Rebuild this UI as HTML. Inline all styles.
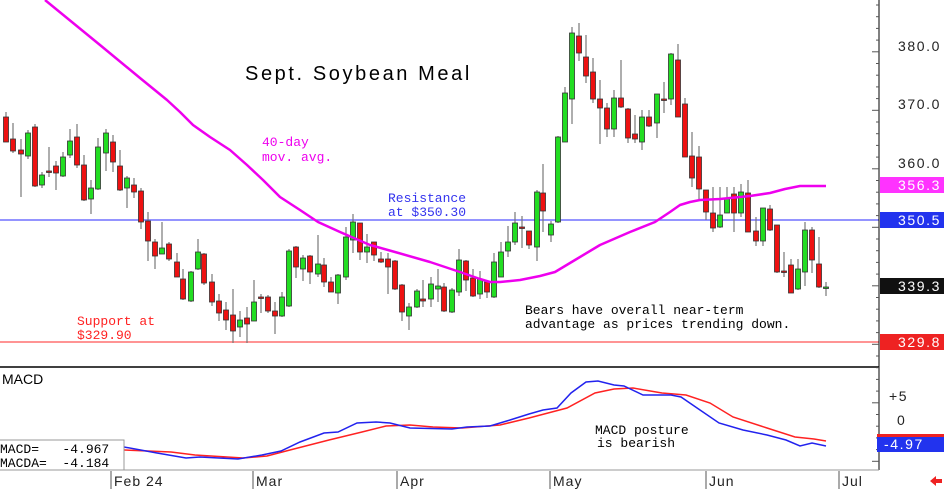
<!DOCTYPE html>
<html><head><meta charset="utf-8"><style>
html,body{margin:0;padding:0;background:#fff;width:944px;height:492px;overflow:hidden}
svg{display:block}
text{white-space:pre}
.m{font-family:"Liberation Mono",monospace;font-size:13px}
.s{font-family:"Liberation Sans",sans-serif}
</style></head><body>
<svg id="c" width="944" height="492" xmlns="http://www.w3.org/2000/svg">
<rect width="944" height="492" fill="#fff"/>
<line x1="0" y1="220" x2="879" y2="220" stroke="#7070ff" stroke-width="1.5"/>
<line x1="0" y1="342" x2="879" y2="342" stroke="#ff7070" stroke-width="1.5"/>
<g id="cd"></g>
<polyline fill="none" stroke="#ee00ee" stroke-width="2.5" stroke-linejoin="round" points="45,0 100,45 140,78 167,100 180,112 193,125 210,137 230,150 247,165 263,180 280,197 300,210 318,222 340,232 370,245 395,252 430,262 460,272 480,279 490,282 500,282 520,280 540,276 555,272 565,266 575,260 600,245 630,232 655,222 670,212 680,205 690,202 700,200 720,199 750,196 770,193 785,189 800,186 826,186"/>
<text x="245" y="80" class="s" font-size="20" letter-spacing="2.6">Sept. Soybean Meal</text>
<text x="262" y="146" class="m" fill="#ee00ee">40-day</text>
<text x="262" y="161" class="m" fill="#ee00ee">mov. avg.</text>
<text x="388" y="202" class="m" fill="#3333ee">Resistance</text>
<text x="388" y="216" class="m" fill="#3333ee">at $350.30</text>
<text x="77" y="325" class="m" fill="#ff2222">Support at</text>
<text x="77" y="339" class="m" fill="#ff2222">$329.90</text>
<text x="525" y="314" class="m">Bears have overall near-term</text>
<text x="525" y="328" class="m">advantage as prices trending down.</text>
<line x1="0" y1="367" x2="879" y2="367" stroke="#000" stroke-width="1.5"/>
<text x="2" y="384" class="s" font-size="14">MACD</text>
<polyline fill="none" stroke="#ff2222" stroke-width="1.5" points="124,450 171,452 195,455 243,458 267,456 290,450 329,440 362,432 386,426 410,425 433,427 462,428 500,425 529,418 567,408 595,393 614,389 633,388 662,393 686,395 710,403 733,417 767,428 795,437 814,439 826,441"/>
<polyline fill="none" stroke="#2222ee" stroke-width="1.5" points="124,447 157,453 186,458 200,457 238,459 262,455 281,451 300,442 324,433 338,432 357,423 376,422 390,423 410,428 452,429 467,427 490,426 510,420 529,414 543,410 557,408 571,393 586,382 598,381 614,385 624,386 643,395 671,395 681,397 700,410 719,423 743,430 767,435 786,440 800,446 812,443 826,446"/>
<text x="595" y="434" class="m">MACD posture</text>
<text x="597" y="447" class="m">is bearish</text>
<rect x="-1" y="440" width="125" height="30" fill="#fff" stroke="#999"/>
<text x="0" y="453" class="m" font-size="14">MACD=   -4.967</text>
<text x="0" y="467" class="m" font-size="14">MACDA=  -4.184</text>
<line x1="879" y1="0" x2="879" y2="470" stroke="#000"/>
<g id="tk" stroke="#555"></g>
<g class="s" font-size="14" fill="#222" letter-spacing="1.6">
<text x="898" y="51">380.0</text><text x="898" y="109">370.0</text><text x="898" y="168">360.0</text><text x="898" y="288">340.0</text>
<text x="889" y="401">+5</text><text x="897" y="425">0</text></g>
<g class="s" font-size="14" fill="#fff" letter-spacing="1.6">
<rect x="880" y="177" width="64" height="16" fill="#ff33ff"/><text x="898" y="190">356.3</text>
<rect x="880" y="212" width="64" height="16" fill="#2233ee"/><text x="898" y="225">350.5</text>
<rect x="880" y="278" width="64" height="16" fill="#111"/><text x="898" y="291">339.3</text>
<rect x="880" y="334" width="64" height="16" fill="#ee2222"/><text x="898" y="347">329.8</text>
<rect x="877" y="434" width="67" height="4" fill="#ee2222"/>
<rect x="877" y="437" width="67" height="15" fill="#2233ee"/><text x="884" y="449">-4.97</text></g>
<line x1="0" y1="470" x2="879" y2="470" stroke="#999"/>
<g stroke="#555"><line x1="111" y1="471" x2="111" y2="489"/><line x1="253" y1="471" x2="253" y2="489"/><line x1="397" y1="471" x2="397" y2="489"/><line x1="550" y1="471" x2="550" y2="489"/><line x1="706" y1="471" x2="706" y2="489"/><line x1="839" y1="471" x2="839" y2="489"/></g>
<g class="s" font-size="14" fill="#222" letter-spacing="1"><text x="114" y="486">Feb 24</text><text x="256" y="486">Mar</text><text x="400" y="486">Apr</text><text x="553" y="486">May</text><text x="709" y="486">Jun</text><text x="842" y="486">Jul</text></g>
<polygon points="930,481 936,476 936,479 942,479 942,483 936,483 936,486" fill="#ee2222"/>
</svg>
<script>
var d=[[6,117,142,112,142],[13,139,151,123,153],[21,150,154,139,197],[28,156,133,130,159],[35,127,186,124,187],[42,185,175,172,188],[49,171,172,147,177],[56,166,173,161,190],[63,176,157,152,177],[70,155,141,129,158],[77,137,165,124,168],[84,165,200,155,201],[91,199,188,180,214],[98,189,147,138,190],[106,153,133,129,171],[113,142,162,135,172],[120,166,190,150,191],[127,188,178,176,208],[134,185,192,178,198],[141,191,222,188,229],[148,221,241,212,261],[155,242,256,239,269],[162,254,248,222,254],[169,244,259,242,261],[177,262,277,253,277],[183,279,299,269,300],[191,301,272,271,302],[198,269,252,239,270],[204,254,283,253,285],[212,282,302,274,306],[219,301,313,294,321],[226,310,320,302,330],[233,315,331,289,343],[240,327,320,311,337],[247,318,324,307,343],[254,321,302,280,321],[261,297,297,294,313],[268,297,311,295,313],[275,311,316,302,334],[282,316,297,292,317],[289,306,251,249,307],[296,247,267,246,278],[303,269,258,255,281],[310,256,272,255,284],[318,274,264,235,277],[324,265,282,258,287],[331,282,292,277,292],[338,293,275,274,304],[346,277,237,227,280],[353,240,222,214,253],[360,223,252,223,260],[367,252,247,234,263],[374,242,255,242,261],[381,259,262,252,263],[388,259,267,253,294],[395,261,289,260,290],[402,285,312,284,321],[409,316,307,303,330],[417,307,291,289,308],[423,299,301,280,307],[431,299,284,277,307],[438,289,286,269,302],[444,287,311,283,312],[452,312,290,288,313],[459,292,260,249,296],[466,261,280,260,291],[473,278,296,269,297],[480,294,279,271,299],[487,282,292,280,298],[494,297,262,253,298],[501,277,252,242,277],[508,251,242,226,257],[515,242,223,212,245],[522,227,228,216,248],[529,231,245,231,249],[537,247,192,190,261],[543,193,211,164,232],[551,235,224,221,242],[558,222,137,136,223],[565,142,93,87,142],[572,99,33,27,124],[579,36,53,23,61],[586,57,76,35,83],[593,72,99,58,103],[600,99,108,80,144],[607,108,129,103,137],[614,129,98,90,137],[621,98,107,60,108],[628,109,138,108,143],[635,134,139,115,143],[642,142,117,110,150],[649,117,126,110,127],[657,123,94,94,138],[664,99,99,82,113],[671,99,54,53,105],[678,60,117,44,117],[685,104,157,98,157],[692,156,178,132,187],[699,157,189,146,200],[706,190,212,190,220],[713,213,228,187,232],[720,227,215,187,228],[727,213,199,187,213],[734,194,213,187,232],[741,213,192,184,217],[748,193,232,180,232],[756,231,241,217,246],[763,241,208,208,246],[770,209,230,205,231],[777,225,272,225,273],[784,271,271,252,277],[791,265,293,259,293],[798,289,269,259,290],[805,272,230,222,286],[812,230,260,227,273],[819,264,287,237,288],[826,288,287,282,296]];
var s='';d.forEach(function(c){var x=c[0],o=c[1],cl=c[2],g=cl<o,t=Math.min(o,cl),h=Math.max(Math.abs(o-cl),1.5);
s+='<line x1="'+x+'" y1="'+c[3]+'" x2="'+x+'" y2="'+c[4]+'" stroke="#777" stroke-width="1.2"/>';
s+='<rect x="'+(x-2.5)+'" y="'+t+'" width="5" height="'+h+'" fill="'+(g?'#22dd22':'#ee1111')+'" stroke="#333" stroke-width="0.8"/>';});
document.getElementById('cd').innerHTML=s;
var k='';for(var y=5;y<470;y+=11.7){var L=(Math.round((y-46)/11.7)%5==0)?7:3;k+='<line x1="'+(879-L)+'" y1="'+y.toFixed(1)+'" x2="879" y2="'+y.toFixed(1)+'"/>';}
document.getElementById('tk').innerHTML=k;
</script>
</body></html>
